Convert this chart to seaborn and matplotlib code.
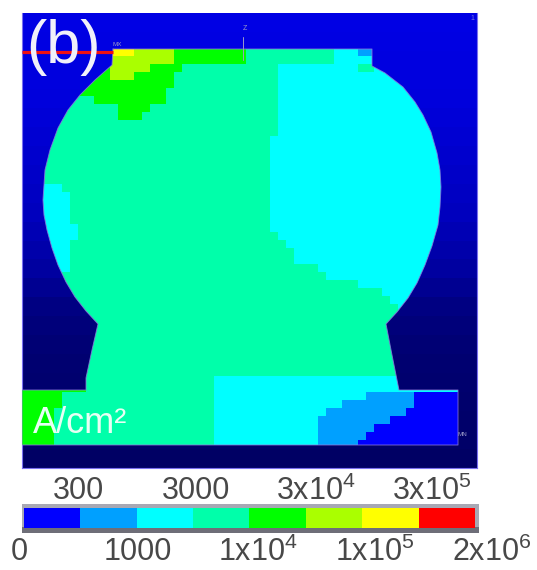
import numpy as np
import pandas as pd
import matplotlib
matplotlib.use('Agg')
import matplotlib.pyplot as plt
import seaborn as sns
from matplotlib.colors import ListedColormap, LinearSegmentedColormap
from matplotlib.patches import Rectangle
from matplotlib.path import Path

sns.set_style('white')
plt.rcParams['font.family'] = ['Liberation Sans', 'DejaVu Sans']
plt.rcParams['mathtext.fontset'] = 'custom'
plt.rcParams['mathtext.rm'] = 'Liberation Sans'
plt.rcParams['mathtext.default'] = 'rm'

W, H = 537, 570

# current density band of each 8 px element, top of the bump to the bottom
band_rows = [
    '4'*11 + '666' + '55555' + '4'*9 + '3'*11 + '222' + '11' + '2',
    '4'*11 + '5'*8 + '4'*9 + '3'*11 + '2',
    '4'*11 + '5'*5 + '4'*4 + '3'*12 + '2'*10 + '33' + '2',
    '4'*11 + '555' + '4'*5 + '3'*13 + '2',
    '4'*19 + '3'*13 + '2',
    '4'*18 + '3'*14 + '2',
    '3'*9 + '4'*9 + '3'*14 + '2',
    '3'*12 + '4'*4 + '3'*16 + '2',
    '3'*12 + '4'*3 + '3'*17 + '2',
    '3'*32 + '2',
    '3'*32 + '2',
    '3'*31 + '2',
    '3'*31 + '2',
    '3'*31 + '2',
    '3'*31 + '2',
    '3'*31 + '2',
    '3'*31 + '2',
    '2'*5 + '3'*26 + '2',
    '2'*6 + '3'*25 + '2',
    '2'*6 + '3'*25 + '2',
    '2'*6 + '3'*25 + '2',
    '2'*6 + '3'*25 + '2',
    '2'*7 + '3'*24 + '2',
    '2'*7 + '3'*25 + '2',
    '2'*6 + '3'*27 + '2',
    '2'*6 + '3'*28 + '2',
    '2'*6 + '3'*28 + '2',
    '2'*6 + '3'*31 + '2',
    '3'*38 + '2',
    '3'*42 + '2',
    '3'*45 + '2',
    '3'*46 + '2',
    '3'*47 + '2',
    '3', '3', '3', '3', '3', '3', '3', '3',
    '3'*24 + '2',
    '4'*8 + '3'*16 + '2',
    '4'*5 + '3'*19 + '2'*19 + '1'*6 + '0',
    '4'*5 + '3'*19 + '2'*16 + '1'*9 + '0',
    '4'*4 + '3'*20 + '2'*14 + '1'*10 + '0',
    '4'*4 + '3'*20 + '2'*13 + '1'*9 + '0',
    '4'*4 + '3'*20 + '2'*13 + '1'*7 + '0',
    '4'*4 + '3'*20 + '2'*13 + '1'*6 + '0',
    '4'*4 + '3'*20 + '2'*13 + '1'*5 + '0',
]

band_colors = ['#0000ff', '#00a0ff', '#00ffff', '#00ffaa',
               '#00ff00', '#aaff00', '#ffff00', '#ff0000']

top_labels = ['300', '3000', '3x10$^4$', '3x10$^5$']
top_label_x = [78, 196, 316, 432]
bottom_labels = ['0', '1000', '1x10$^4$', '1x10$^5$', '2x10$^6$']
bottom_label_x = [19, 138, 258, 375, 492]

# bump outline, in pixels
outline_x = [113, 372, 372, 385, 403, 415, 423, 431, 437, 440, 441, 440, 438, 432,
             425, 417, 408, 397, 386, 392, 399, 458, 458, 22, 22, 86, 86, 92, 98,
             86, 75, 66, 58, 52, 47, 44, 43, 44, 45, 50, 58, 68, 80, 95, 112, 113]
outline_y = [49, 49, 66, 73, 87, 102, 115, 132, 153, 170, 187, 207, 225, 246,
             265, 283, 298, 312, 324, 355, 390, 390, 445, 445, 390, 390, 378, 350, 324,
             311, 297, 282, 265, 248, 230, 215, 200, 185, 170, 150, 128, 110, 95, 80, 65, 49]

# blue channel of the background, top to bottom
background_blue = [228, 226, 224, 222, 220, 215, 210, 205, 200, 195, 190, 180,
                   170, 160, 145, 130, 122, 116, 112, 110, 108, 106, 104, 100]

n_cols = 55
grid = np.array([[int(c) for c in r.ljust(n_cols, r[-1])] for r in band_rows])
band_cmap = ListedColormap(band_colors)


def box(x0, y0, x1, y1):
    # pixel box to figure fractions
    return [x0 / W, 1 - y1 / H, (x1 - x0) / W, (y1 - y0) / H]


def put(x, y, s, **kw):
    fig.text(x / W, 1 - y / H, s, **kw)


fig = plt.figure(figsize=(W / 100, H / 100), dpi=100)

# background
ax_bg = fig.add_axes(box(22, 13, 477, 468))
blue_cmap = LinearSegmentedColormap.from_list('bg', ['#000000', '#0000ff'])
bg_df = pd.DataFrame({'blue': background_blue})
sns.heatmap(bg_df, ax=ax_bg, cmap=blue_cmap, vmin=0, vmax=255, cbar=False,
            xticklabels=False, yticklabels=False)
for side in ['left', 'right', 'bottom']:
    ax_bg.spines[side].set_visible(True)
    ax_bg.spines[side].set_color('#7a70f0')
    ax_bg.spines[side].set_linewidth(0.8)

# bump
ax = fig.add_axes(box(22, 48, 22 + 8 * n_cols, 48 + 8 * len(band_rows)))
ax.patch.set_alpha(0)
sns.heatmap(pd.DataFrame(grid), ax=ax, cmap=band_cmap, vmin=-0.5, vmax=7.5,
            cbar=False, xticklabels=False, yticklabels=False)
gx = (np.array(outline_x) - 22) / 8
gy = (np.array(outline_y) - 48) / 8
ax.collections[0].set_clip_path(Path(np.column_stack([gx, gy])), ax.transData)
ax.plot(gx, gy, color='#8c78dc', lw=0.7, alpha=0.8, solid_joinstyle='round')

# red marker line and the small triad
ax.plot([0, (113 - 22) / 8], [(51.5 - 48) / 8] * 2, color='#f01010', lw=2.3,
        solid_capstyle='butt', clip_on=False)
ax.plot([(243 - 22) / 8] * 2, [(37 - 48) / 8, (60 - 48) / 8], color='#9a9ac8', lw=0.7,
        clip_on=False)

# colour bar frame
fig.add_artist(Rectangle((22 / W, 1 - 533 / H), 457 / W, 29 / H, transform=fig.transFigure,
                         facecolor='#a8a8b4', edgecolor='none'))
fig.add_artist(Rectangle((22 / W, 1 - 533 / H), 457 / W, 6 / H, transform=fig.transFigure,
                         facecolor='#6e6e78', edgecolor='none'))
ax_cb = fig.add_axes(box(24, 508, 475, 528))
ax_cb.set_zorder(3)
sns.heatmap(pd.DataFrame([list(range(len(band_colors)))]), ax=ax_cb, cmap=band_cmap,
            vmin=-0.5, vmax=7.5, cbar=False, xticklabels=False, yticklabels=False)

for x, s in zip(top_label_x, top_labels):
    put(x, 491, s, ha='center', va='center', fontsize=22, color='#484848')
for x, s in zip(bottom_label_x, bottom_labels):
    put(x, 552, s, ha='center', va='center', fontsize=22, color='#484848')

put(64, 63, '(b)', ha='center', va='baseline', fontsize=44, color='#f0f0fa', zorder=5)
put(33, 433, 'A/cm²', ha='left', va='baseline', fontsize=26, color='#e8fff4', zorder=5)
put(117, 45, 'MX', ha='center', va='center', fontsize=4.5, color='#9a9ac8')
put(245, 29, 'Z', ha='center', va='center', fontsize=5, color='#9a9ac8')
put(462, 434, 'MN', ha='center', va='center', fontsize=4.5, color='#9a9ac8')
put(472, 19, '1', ha='center', va='center', fontsize=5, color='#7a78e0')

fig.savefig('out.png', dpi=100)
